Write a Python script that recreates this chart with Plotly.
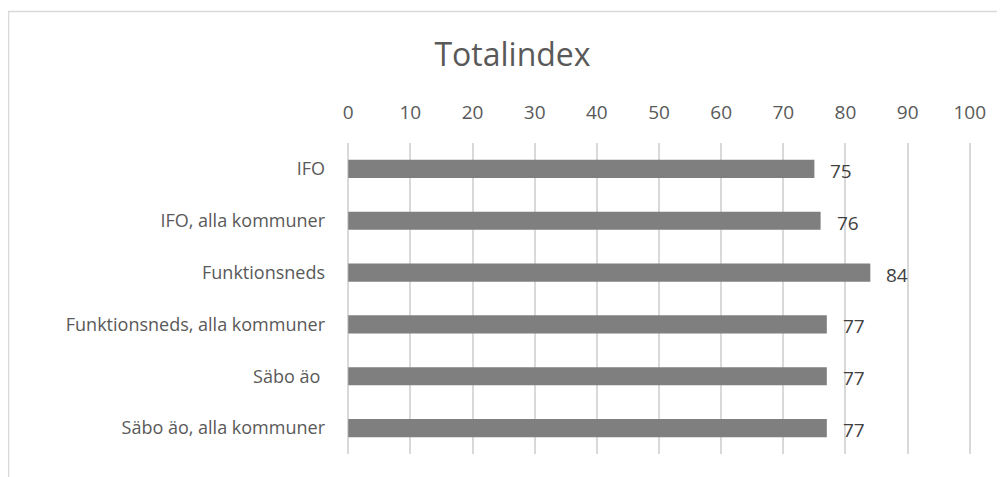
import plotly.graph_objects as go

categories = ["IFO", "IFO, alla kommuner", "Funktionsneds", "Funktionsneds, alla kommuner", "Säbo äo ", "Säbo äo, alla kommuner"]
values = [75, 76, 84, 77, 77, 77]
tick_vals = [0, 10, 20, 30, 40, 50, 60, 70, 80, 90, 100]

FONT = "Open Sans"
W, H = 997, 469
L, R, T, B = 334, 29, 135, 23
PW = W - L - R
PH = H - T - B

fig = go.Figure()
fig.add_trace(go.Bar(
    y=categories, x=values, orientation="h",
    marker=dict(color="#7f7f7f", line=dict(width=0)),
    width=0.35, hoverinfo="skip",
))

for c, v in zip(categories, values):
    fig.add_annotation(x=v, y=c, text=str(v), showarrow=False,
                       xanchor="left", xshift=14, yshift=-2,
                       font=dict(family=FONT, size=19, color="#404040"))

fig.update_layout(
    width=W, height=H,
    margin=dict(l=L, r=R, t=T, b=B),
    paper_bgcolor="white", plot_bgcolor="white",
    showlegend=False,
    title=dict(text="Totalindex", x=504.5 / W, xanchor="center", y=1 - 47 / H,
               yanchor="middle", yref="container",
               font=dict(family=FONT, size=32, color="#595959")),
    xaxis=dict(side="top", range=[-1, 101], tickvals=tick_vals,
               showgrid=True, gridcolor="#d9d9d9", gridwidth=1.5,
               zeroline=False, showline=False, ticks="",
               ticklabelstandoff=19,
               tickfont=dict(family=FONT, size=19, color="#595959")),
    yaxis=dict(autorange="reversed", showgrid=False, zeroline=False,
               showline=False, ticks="", ticklabelstandoff=16,
               tickfont=dict(family=FONT, size=18, color="#595959")),
    shapes=[dict(type="rect", xref="paper", yref="paper",
                 x0=(0.5 - L) / PW, x1=1.2,
                 y0=-0.3, y1=(PH + T - 3.5) / PH,
                 line=dict(color="#d9d9d9", width=1.5), layer="below")],
)

fig.write_html("out.html")
